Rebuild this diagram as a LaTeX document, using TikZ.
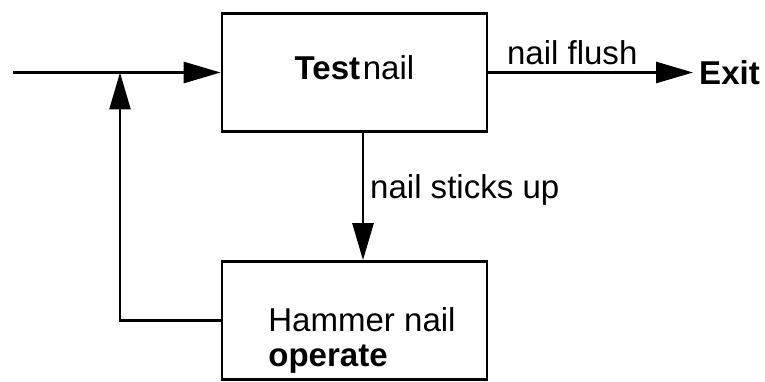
\documentclass[tikz,border=0pt]{standalone}
\usepackage{fontspec}
\setmainfont{Liberation Sans}
\usetikzlibrary{arrows.meta,positioning}

\begin{document}
\begin{tikzpicture}[
        box/.style={draw,line width=1.5pt,minimum width=5.3cm,minimum height=2.36cm},
        flow/.style={line width=1.5pt,-{Triangle[length=0.74cm,width=0.42cm]}},
        every node/.style={font=\fontsize{18.8}{20}\selectfont}]
        \useasboundingbox (0,0) rectangle (15.3,7.62);
        \node[box,text depth=0.2cm] (test) at (7.09,6.17) {\textbf{Test}\kern1.5pt nail};
        \node[box] (hammer) at (7.09,1.21) {};
        \node[anchor=north west,inner sep=0pt,align=left] (hammertext) at (5.36,1.48) {Hammer nail\\\textbf{operate}};
        \node[anchor=west] (exit) at (13.86,6.17) {\textbf{Exit}};
        \coordinate (in) at (0.26,6.17);
        \coordinate (join) at (2.4,6.17);
        \draw[flow] (in) -- (test.west);
        \draw[flow] (test.east) -- (exit.west) node[pos=0.41,above] {nail flush};
        \draw[flow] ([xshift=0.17cm]test.south) -- ([xshift=0.17cm]hammer.north) node[pos=0.45,right] {nail sticks up};
        \draw[flow] (hammer.west) -| (join);
    \end{tikzpicture}
\end{document}
